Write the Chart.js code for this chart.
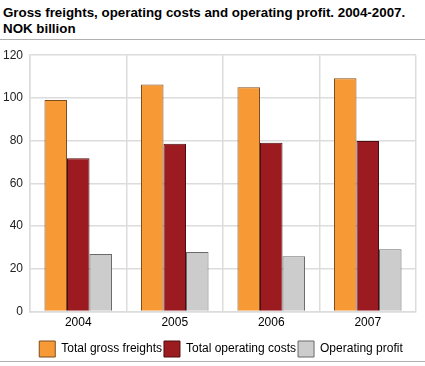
<!DOCTYPE html>
<html>
<head>
<meta charset="utf-8">
<script src="https://cdn.jsdelivr.net/npm/chart.js@4/dist/chart.umd.min.js"></script>
<style>
  html, body { margin: 0; padding: 0; background: #fff; }
  #wrap { position: relative; width: 425px; height: 366px; overflow: hidden; }
  #title {
    position: absolute; left: 3px; top: 5px; white-space: nowrap;
    font: bold 13.33px "Liberation Sans", Arial, sans-serif; line-height: 16px; color: #000;
  }
  .rule { position: absolute; left: 0; width: 425px; height: 0; border-top: 1px solid #b0b0b0; }
  #chartBox { position: absolute; left: 0; top: 41px; width: 425px; height: 320px; }
</style>
</head>
<body>
<div id="wrap">
  <div id="title">Gross freights, operating costs and operating profit. 2004-2007.<br>NOK billion</div>
  <div class="rule" style="top:39px"></div>
  <div id="chartBox"><canvas id="bar_chart"></canvas></div>
  <div class="rule" style="top:361px"></div>
</div>
<script>
const years = ['2004', '2005', '2006', '2007'];
const gross_freights = [99, 106.3, 105, 109.2];
const operating_costs = [71.8, 78.5, 79, 79.9];
const operating_profit = [27, 27.9, 25.9, 29.2];
const y_ticks = [0, 20, 40, 60, 80, 100, 120];

const grid_color = '#dcdcdc';

// nudge the legend a little to the right, as in the original
const legend_shift = {
	id: 'legend_shift',
	afterLayout(chart) {
		chart.legend.left += 13;
		chart.legend.right += 13;
	}
};

const bar_chart = new Chart(
		document.getElementById('bar_chart').getContext('2d'),
		{
			type: 'bar',
			data: {
				labels: years,
				datasets: [{
						label: 'Total gross freights',
						data: gross_freights,
						backgroundColor: '#f79a36',
						borderColor: '#7d4d1c',
						borderWidth: 1
					}, {
						label: 'Total operating costs',
						data: operating_costs,
						backgroundColor: '#9b1b20',
						borderColor: '#4e0c0e',
						borderWidth: 1
					}, {
						label: 'Operating profit',
						data: operating_profit,
						backgroundColor: '#cccccc',
						borderColor: '#6a6a6a',
						borderWidth: 1
					}]
			},
			options: {
				responsive: true,
				maintainAspectRatio: false,
				animation: false,
				datasets: {
					bar: {
						categoryPercentage: 0.7,
						barPercentage: 1
					}
				},
				layout: {
					padding: { left: 0, right: 9, top: 3, bottom: -6 }
				},
				scales: {
					x: {
						grid: { color: grid_color, lineWidth: 1.5, drawTicks: false },
						border: { color: grid_color, width: 1.5 },
						ticks: {
							color: '#000',
							padding: 4,
							font: { family: 'Liberation Sans', size: 12 }
						}
					},
					y: {
						min: 0,
						max: 120,
						afterBuildTicks: (axis) => { axis.ticks = y_ticks.map(v => ({ value: v })); },
						afterFit: (axis) => { axis.width = 30; },
						grid: { color: grid_color, lineWidth: 1.5, drawTicks: false },
						border: { color: grid_color, width: 1.5 },
						ticks: {
							color: '#222',
							padding: 7,
							font: { family: 'Liberation Sans', size: 12 }
						}
					}
				},
				plugins: {
					legend: {
						position: 'bottom',
						title: {
							display: true,
							text: '',
							padding: 0,
							font: { size: 5, lineHeight: 1 }
						},
						labels: {
							boxWidth: 16,
							boxHeight: 16,
							padding: 2,
							color: '#000',
							font: { family: 'Liberation Sans', size: 12 }
						}
					},
					tooltip: { enabled: false }
				}
			},
			plugins: [legend_shift]
		}
);
</script>
</body>
</html>
